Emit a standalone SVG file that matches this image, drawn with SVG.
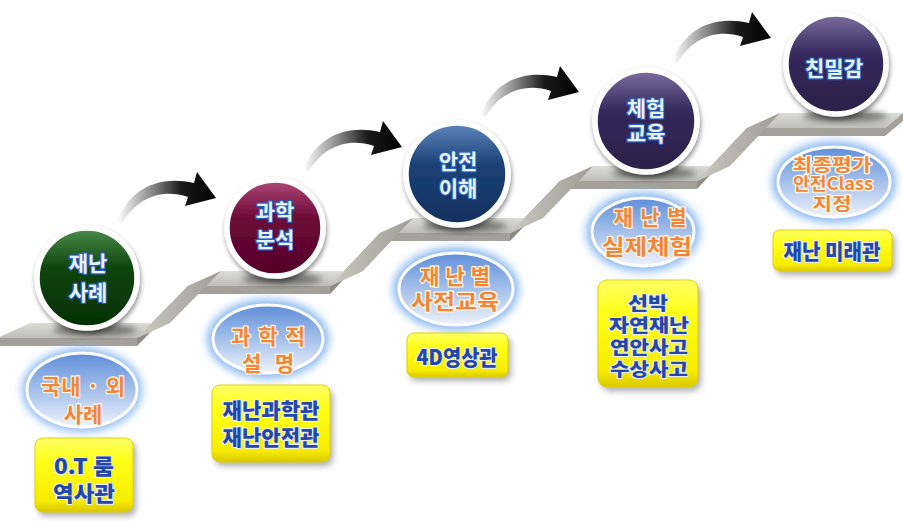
<svg xmlns="http://www.w3.org/2000/svg" width="903" height="521" viewBox="0 0 903 521">
<defs>
<style>
.ct{font-family:"Noto Sans CJK KR","Noto Sans",sans-serif;font-weight:700;font-size:21px;fill:#e6f3ff;stroke:#2a5fb8;stroke-width:2.4px;paint-order:stroke;text-anchor:middle;stroke-linejoin:round}
.ot{font-family:"Noto Sans CJK KR","Noto Sans",sans-serif;font-weight:700;font-size:21px;fill:#f0863a;stroke:#fff4e4;stroke-width:2.6px;paint-order:stroke;text-anchor:middle;stroke-linejoin:round}
.ot.s{font-size:17px}
.yt{font-family:"Noto Sans CJK KR","Noto Sans",sans-serif;font-weight:900;font-size:21px;fill:#2447a8;stroke:#e8eeff;stroke-width:2px;paint-order:stroke;text-anchor:middle;stroke-linejoin:round}
.yt.s{font-size:18px}
.ring{stroke:#ffffff;stroke-width:5.5}
.ptop{fill:url(#gTop)}
.pfront{fill:#a3a199}
.rtop{fill:url(#gRamp)}
.rfront{fill:#8e8c84}
.oval{fill:url(#gOval);stroke:#ffffff;stroke-width:3}
.glow{fill:#8dbaf2;filter:url(#fBlur4)}
.ybox{fill:url(#gYel);stroke:#e2d200;stroke-width:1}
.yshadow{fill:#6d6d6d;opacity:.55;filter:url(#fBlur3)}
.cshadow{fill:#3a3a3a;opacity:.6;filter:url(#fBlur3)}
.arrow{fill:url(#gArrow)}
</style>
<filter id="fBlur4" x="-30%" y="-30%" width="160%" height="160%"><feGaussianBlur stdDeviation="4"/></filter>
<filter id="fBlur3" x="-30%" y="-30%" width="160%" height="160%"><feGaussianBlur stdDeviation="3"/></filter>
<filter id="fDrop" x="-20%" y="-20%" width="140%" height="140%"><feGaussianBlur in="SourceAlpha" stdDeviation="2.5"/><feOffset dx="1" dy="3"/><feComponentTransfer><feFuncA type="linear" slope="0.45"/></feComponentTransfer><feMerge><feMergeNode/><feMergeNode in="SourceGraphic"/></feMerge></filter>
<linearGradient id="gTop" x1="0" y1="0" x2="0" y2="1"><stop offset="0" stop-color="#dcdcd7"/><stop offset="1" stop-color="#bfbeb8"/></linearGradient>
<linearGradient id="gRamp" x1="0" y1="0" x2="1" y2="0"><stop offset="0" stop-color="#c9c8c1"/><stop offset="1" stop-color="#9f9d95"/></linearGradient>
<linearGradient id="gOval" x1="0" y1="0" x2="0" y2="1"><stop offset="0" stop-color="#5f8ed8"/><stop offset="0.5" stop-color="#a4c0ea"/><stop offset="1" stop-color="#eef3fc"/></linearGradient>
<linearGradient id="gYel" x1="0" y1="0" x2="0" y2="1"><stop offset="0" stop-color="#ffff66"/><stop offset="0.3" stop-color="#ffff1a"/><stop offset="0.85" stop-color="#f7ec00"/><stop offset="1" stop-color="#d9c800"/></linearGradient>
<linearGradient id="gArrow" x1="0" y1="0" x2="1" y2="0"><stop offset="0" stop-color="#ffffff"/><stop offset="0.35" stop-color="#8a8a8a"/><stop offset="0.65" stop-color="#1a1a1a"/><stop offset="1" stop-color="#000000"/></linearGradient>
<linearGradient id="gC1" x1="0" y1="0" x2="0" y2="1"><stop offset="0" stop-color="#4d8d4d"/><stop offset="0.4" stop-color="#0c450c"/><stop offset="1" stop-color="#053005"/></linearGradient>
<linearGradient id="gC2" x1="0" y1="0" x2="0" y2="1"><stop offset="0" stop-color="#b04878"/><stop offset="0.4" stop-color="#6c0a38"/><stop offset="1" stop-color="#54002a"/></linearGradient>
<linearGradient id="gC3" x1="0" y1="0" x2="0" y2="1"><stop offset="0" stop-color="#6088c0"/><stop offset="0.4" stop-color="#1c4276"/><stop offset="1" stop-color="#11305e"/></linearGradient>
<linearGradient id="gC4" x1="0" y1="0" x2="0" y2="1"><stop offset="0" stop-color="#7d6fa0"/><stop offset="0.4" stop-color="#35295c"/><stop offset="1" stop-color="#2a2048"/></linearGradient>
<path id="arr" d="M0,2 C10,-26 36,-46 77,-37 L80,-48 L99,-22 L68,-14 L71,-23 C45,-32 20,-22 6,2 Z"/>
</defs>
<rect width="903" height="521" fill="#ffffff"/>

<g id="staircase">
  <polygon class="pfront" points="-3,338 137,338 137,346 -3,346"/>
  <polygon class="pfront" points="188,286 330,286 330,294 188,294"/>
  <polygon class="pfront" points="380,233 510,233 510,241 380,241"/>
  <polygon class="pfront" points="560,181 697,181 697,189 560,189"/>
  <polygon class="pfront" points="747,128 885,128 885,136 747,136"/>
  <polygon class="pfront" points="885,128 903,113 903,121 885,136"/>
  <polygon class="rfront" points="137,338 188,286 188,294 137,346"/>
  <polygon class="rfront" points="330,286 380,233 380,241 330,294"/>
  <polygon class="rfront" points="510,233 560,181 560,189 510,241"/>
  <polygon class="rfront" points="697,181 747,128 747,136 697,189"/>
  <polygon class="ptop" points="-3,338 137,338 170,323 30,323"/>
  <polygon class="ptop" points="188,286 330,286 363,271 221,271"/>
  <polygon class="ptop" points="380,233 510,233 543,218 413,218"/>
  <polygon class="ptop" points="560,181 697,181 730,166 593,166"/>
  <polygon class="ptop" points="747,128 885,128 903,113 780,113"/>
  <polygon class="rtop" points="137,338 188,286 221,271 170,323"/>
  <polygon class="rtop" points="330,286 380,233 413,218 363,271"/>
  <polygon class="rtop" points="510,233 560,181 593,166 543,218"/>
  <polygon class="rtop" points="697,181 747,128 780,113 730,166"/>
</g>

<g id="connectors">
  <use href="#arr" class="arrow" transform="translate(117,220)"/>
  <use href="#arr" class="arrow" transform="translate(303,169)"/>
  <use href="#arr" class="arrow" transform="translate(480,114)"/>
  <use href="#arr" class="arrow" transform="translate(672,60)"/>
</g>

<g id="step1">
  <ellipse class="cshadow" cx="95" cy="330" rx="42" ry="6"/>
  <g filter="url(#fDrop)"><circle class="ring" cx="87" cy="278" r="50" fill="url(#gC1)"/></g>
  <text class="ct"><tspan x="88" y="271">재난</tspan><tspan x="88" y="300">사례</tspan></text>
  <ellipse class="glow" cx="82" cy="390" rx="60" ry="42"/>
  <ellipse class="oval" cx="82" cy="390" rx="55" ry="37"/>
  <text class="ot"><tspan x="83" y="394" textLength="84" lengthAdjust="spacing">국내 · 외</tspan><tspan x="83" y="422">사례</tspan></text>
  <rect class="yshadow" x="38" y="442" width="98" height="74" rx="8"/>
  <rect class="ybox" x="35" y="438" width="98" height="74" rx="8"/>
  <text class="yt"><tspan x="84" y="474" textLength="60" lengthAdjust="spacingAndGlyphs">0.T 룸</tspan><tspan x="84" y="501" textLength="62" lengthAdjust="spacingAndGlyphs">역사관</tspan></text>
</g>

<g id="step2">
  <ellipse class="cshadow" cx="282" cy="279" rx="40" ry="6"/>
  <g filter="url(#fDrop)"><circle class="ring" cx="275" cy="228" r="48" fill="url(#gC2)"/></g>
  <text class="ct"><tspan x="275" y="219">과학</tspan><tspan x="275" y="247">분석</tspan></text>
  <ellipse class="glow" cx="268" cy="339" rx="61" ry="40"/>
  <ellipse class="oval" cx="268" cy="339" rx="55" ry="34"/>
  <text class="ot"><tspan x="268" y="344" textLength="74" lengthAdjust="spacing">과학적</tspan><tspan x="268" y="371" textLength="52" lengthAdjust="spacing">설명</tspan></text>
  <rect class="yshadow" x="215" y="389" width="118" height="77" rx="8"/>
  <rect class="ybox" x="212" y="385" width="118" height="77" rx="8"/>
  <text class="yt"><tspan x="271" y="418" textLength="97" lengthAdjust="spacingAndGlyphs">재난과학관</tspan><tspan x="271" y="445" textLength="97" lengthAdjust="spacingAndGlyphs">재난안전관</tspan></text>
</g>

<g id="step3">
  <ellipse class="cshadow" cx="465" cy="226" rx="42" ry="6"/>
  <g filter="url(#fDrop)"><circle class="ring" cx="457" cy="174" r="51" fill="url(#gC3)"/></g>
  <text class="ct"><tspan x="458" y="169">안전</tspan><tspan x="458" y="196">이해</tspan></text>
  <ellipse class="glow" cx="456" cy="289" rx="63" ry="42"/>
  <ellipse class="oval" cx="456" cy="289" rx="57" ry="36"/>
  <text class="ot"><tspan x="455" y="284" textLength="70" lengthAdjust="spacing">재난별</tspan><tspan x="455" y="309" textLength="88" lengthAdjust="spacingAndGlyphs">사전교육</tspan></text>
  <rect class="yshadow" x="410" y="337" width="101" height="44" rx="7"/>
  <rect class="ybox" x="407" y="333" width="101" height="44" rx="7"/>
  <text class="yt" x="457" y="365" textLength="81" lengthAdjust="spacingAndGlyphs">4D영상관</text>
</g>

<g id="step4">
  <ellipse class="cshadow" cx="654" cy="173" rx="42" ry="6"/>
  <g filter="url(#fDrop)"><circle class="ring" cx="646" cy="121" r="51" fill="url(#gC4)"/></g>
  <text class="ct"><tspan x="646" y="116">체험</tspan><tspan x="646" y="141">교육</tspan></text>
  <ellipse class="glow" cx="643" cy="232" rx="57" ry="40"/>
  <ellipse class="oval" cx="643" cy="232" rx="51" ry="34"/>
  <text class="ot"><tspan x="650" y="225" textLength="73" lengthAdjust="spacing">재난별</tspan><tspan x="647" y="254" textLength="90" lengthAdjust="spacingAndGlyphs">실제체험</tspan></text>
  <rect class="yshadow" x="601" y="284" width="100" height="107" rx="9"/>
  <rect class="ybox" x="598" y="280" width="100" height="107" rx="9"/>
  <text class="yt s"><tspan x="648" y="310" textLength="40" lengthAdjust="spacingAndGlyphs">선박</tspan><tspan x="649" y="332" textLength="80" lengthAdjust="spacingAndGlyphs">자연재난</tspan><tspan x="649" y="354" textLength="78" lengthAdjust="spacingAndGlyphs">연안사고</tspan><tspan x="649" y="376" textLength="78" lengthAdjust="spacingAndGlyphs">수상사고</tspan></text>
</g>

<g id="step5">
  <ellipse class="cshadow" cx="845" cy="116" rx="42" ry="6"/>
  <g filter="url(#fDrop)"><circle class="ring" cx="836" cy="64" r="50" fill="url(#gC4)"/></g>
  <text class="ct" x="834" y="76">친밀감</text>
  <ellipse class="glow" cx="834" cy="182" rx="62" ry="41"/>
  <ellipse class="oval" cx="834" cy="182" rx="56" ry="35"/>
  <text class="ot s"><tspan x="832" y="171" textLength="79" lengthAdjust="spacingAndGlyphs">최종평가</tspan><tspan x="833" y="190" textLength="80" lengthAdjust="spacingAndGlyphs">안전Class</tspan><tspan x="832" y="210" textLength="39" lengthAdjust="spacingAndGlyphs">지정</tspan></text>
  <rect class="yshadow" x="776" y="234" width="119" height="41" rx="7"/>
  <rect class="ybox" x="773" y="230" width="119" height="41" rx="7"/>
  <text class="yt" x="832" y="259" textLength="97" lengthAdjust="spacingAndGlyphs">재난 미래관</text>
</g>
</svg>
